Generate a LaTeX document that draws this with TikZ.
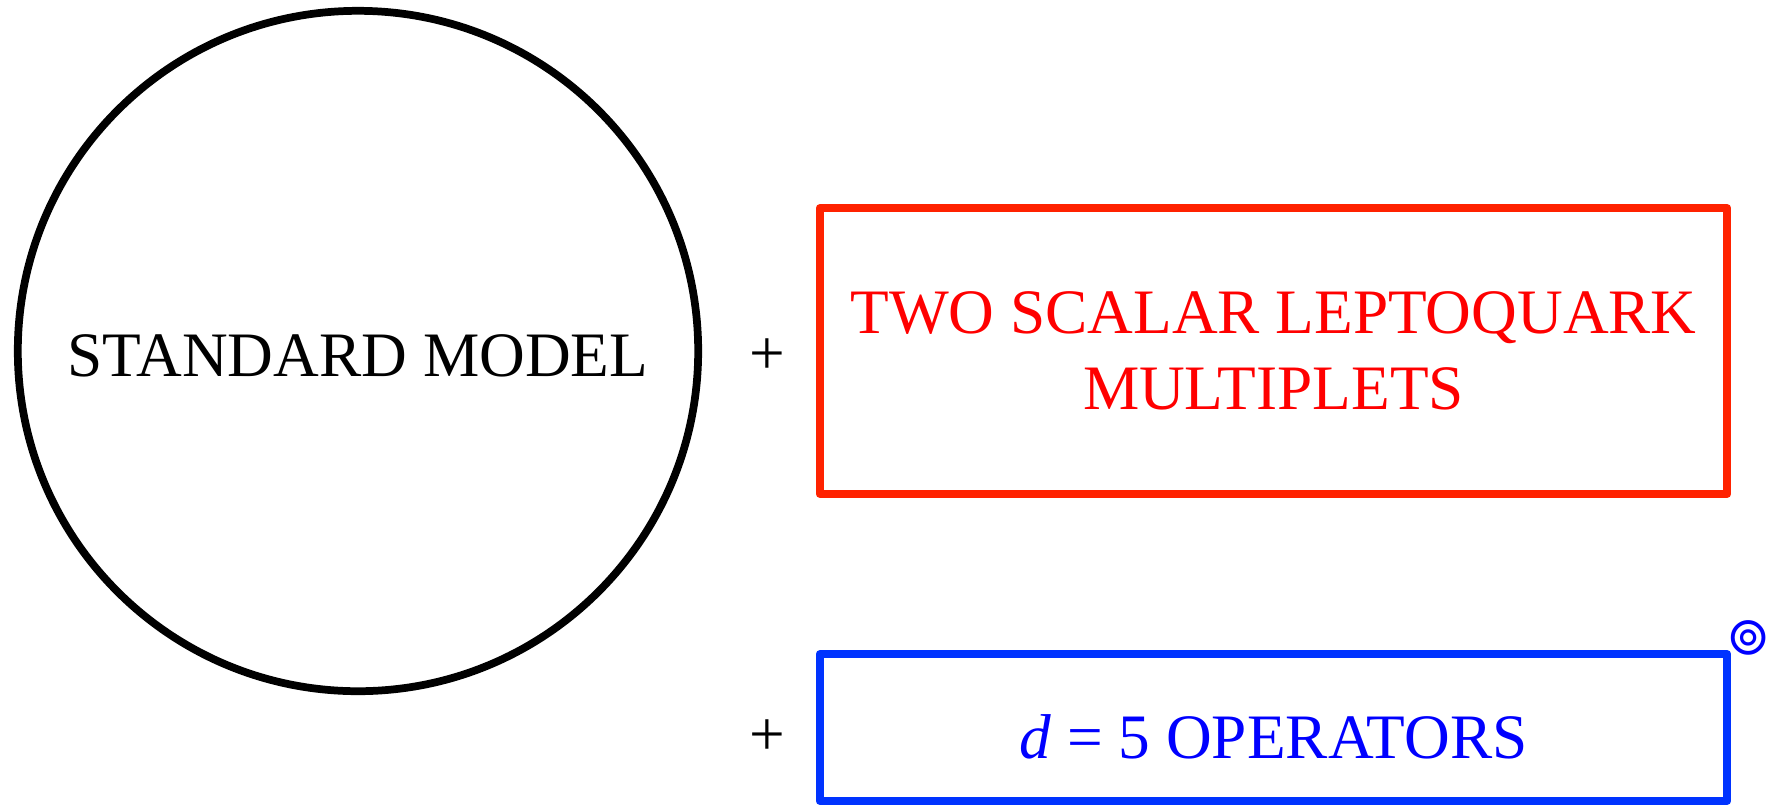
\documentclass[tikz,border=0pt]{standalone}
\usepackage{fontspec}
\setmainfont{Liberation Serif}
\newfontfamily\symfont{DejaVu Sans}
\usepackage{xcolor}
\definecolor{lq}{HTML}{FF2200}
\definecolor{lqtext}{HTML}{FF0000}
\definecolor{op}{HTML}{0033FF}
\definecolor{optext}{HTML}{0000FF}

\begin{document}
\begin{tikzpicture}[x=0.01cm, y=-0.01cm,
  n/.style={draw, line width=2.2pt, font=\fontsize{18}{21.6}\selectfont, inner sep=0pt, line join=round},
  sm/.style={n, circle, minimum size=6.8cm, text height=0.5cm, text depth=0pt},
  lq/.style={n, draw=lq, text=lqtext, minimum width=9.07cm, minimum height=2.86cm, align=center},
  op/.style={n, draw=op, text=optext, minimum width=9.07cm, minimum height=1.47cm, text height=0.61cm, text depth=0pt},
  plus/.style={font=\fontsize{18}{21.6}\selectfont, anchor=base, inner sep=0pt},
  sym/.style={font=\symfont\fontsize{15}{18}\selectfont, text=optext, inner sep=0pt}
]
\useasboundingbox (0,0) rectangle (1769,805);
\node[sm] (sm)    at (358,351)    {STANDARD MODEL};
\node[lq] (lqbox) at (1273.5,351) {TWO SCALAR LEPTOQUARK\\MULTIPLETS};
\node[op] (opbox) at (1273.5,727.5) {\textit{d} = 5 OPERATORS};
\node[plus] (p1)  at (767,374)    {+};
\node[plus] (p2)  at (767,755)    {+};
\node[sym] (ring) at (1749,638)   {⊚};
\end{tikzpicture}
\end{document}
